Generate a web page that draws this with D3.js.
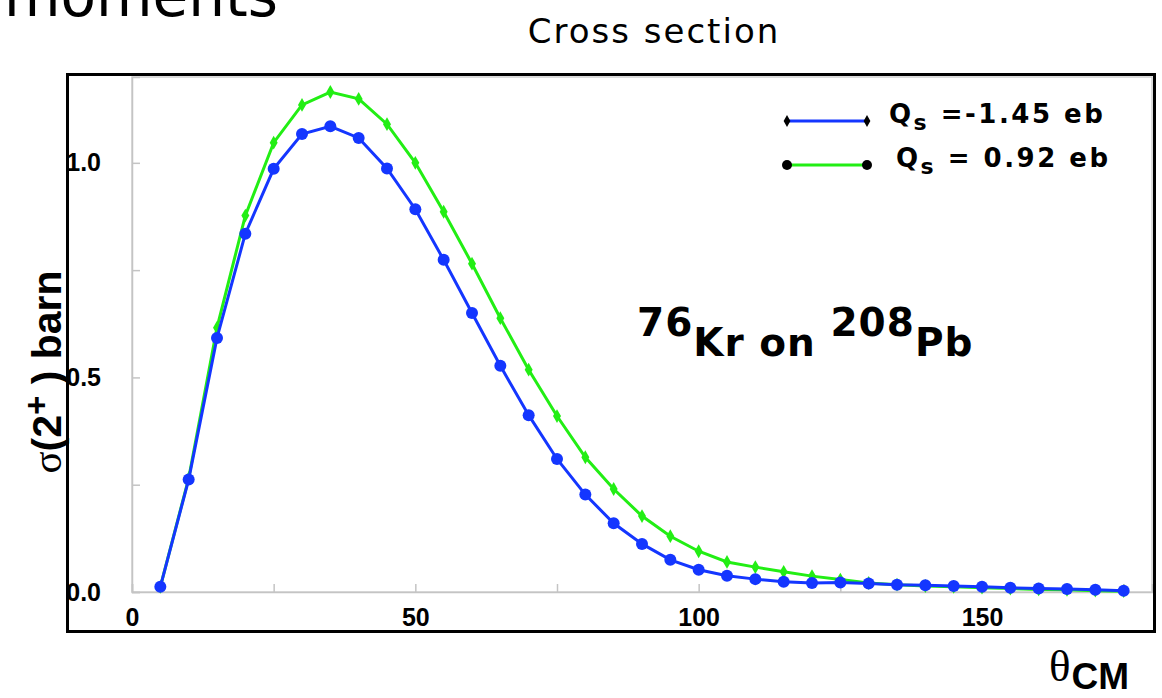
<!DOCTYPE html>
<html>
<head>
<meta charset="utf-8">
<script src="https://cdn.jsdelivr.net/npm/d3@7"></script>
<style>
  body { margin: 0; background: #fff; }
  .comic { font-family: "Comic Sans MS", "DejaVu Sans", "Noto Sans", sans-serif; }
  .axis path, .axis line { stroke: #c4c4c4; stroke-width: 1.5; }
</style>
</head>
<body>
<svg width="1162" height="698"></svg>
<script>
// cross section of 2+ excitation vs CM angle

var theta = [5, 10, 15, 20, 25, 30, 35, 40, 45, 50, 55, 60, 65, 70, 75, 80, 85, 90,
             95, 100, 105, 110, 115, 120, 125, 130, 135, 140, 145, 150, 155, 160, 165, 170, 175];

// Qs = -1.45 eb (blue, circles)
var sigmaNeg = [0.012, 0.262, 0.592, 0.835, 0.986, 1.067, 1.085, 1.058, 0.987, 0.892,
                0.774, 0.650, 0.527, 0.412, 0.310, 0.227, 0.160, 0.112, 0.075, 0.052,
                0.038, 0.030, 0.024, 0.021, 0.022, 0.020, 0.017, 0.016, 0.014, 0.012,
                0.010, 0.008, 0.007, 0.005, 0.003];

// Qs = 0.92 eb (green, diamonds)
var sigmaPos = [0.012, 0.265, 0.616, 0.877, 1.047, 1.135, 1.165, 1.149, 1.090, 1.000,
                0.886, 0.765, 0.638, 0.518, 0.410, 0.314, 0.240, 0.177, 0.130, 0.095,
                0.070, 0.058, 0.047, 0.037, 0.029, 0.021, 0.017, 0.014, 0.012, 0.010,
                0.008, 0.006, 0.005, 0.003, 0.002];

var xTicks = [0, 25, 50, 75, 100, 125, 150, 175];
var xLabels = [0, 50, 100, 150];
var yTicks = [0, 0.25, 0.5, 0.75, 1.0];
var yLabels = [0, 0.5, 1.0];

var legendNames = ["=-1.45 eb", "= 0.92 eb"];

var BLUE = "#1436ff", GREEN = "#22ee14";

var svg = d3.select("svg");

var x = d3.scaleLinear().domain([0, 180]).range([132, 1152]);
var y = d3.scaleLinear().domain([0, 1.2]).range([592, 77]);

// "moments" cut off at the top of the slide
svg.append("text")
    .attr("class", "comic")
    .attr("x", 278).attr("y", 16)
    .attr("text-anchor", "end")
    .attr("font-size", 58)
    .text("moments");

svg.append("text")
    .attr("class", "comic")
    .attr("x", 654).attr("y", 43)
    .attr("text-anchor", "middle")
    .attr("font-size", 34)
    .attr("letter-spacing", 2)
    .text("Cross section");

// light gray plot box
svg.append("rect")
    .attr("x", x(0)).attr("y", y(1.2))
    .attr("width", x(180) - x(0)).attr("height", y(0) - y(1.2))
    .attr("fill", "none").attr("stroke", "#d0d0d0").attr("stroke-width", 1.5);

svg.append("g")
    .attr("class", "axis axis--x")
    .attr("transform", "translate(0," + y(0) + ")")
    .call(d3.axisBottom(x).tickValues(xTicks).tickSize(-8).tickPadding(16)
        .tickFormat(d => xLabels.indexOf(d) >= 0 ? d : ""));

svg.append("g")
    .attr("class", "axis axis--y")
    .attr("transform", "translate(" + x(0) + ",0)")
    .call(d3.axisLeft(y).tickValues(yTicks).tickSize(-8).tickPadding(31)
        .tickFormat(d => yLabels.indexOf(d) >= 0 ? d3.format(".1f")(d) : ""));

svg.selectAll(".axis .domain").attr("stroke", "#c4c4c4");
svg.selectAll(".axis .tick text")
    .attr("font-family", "'Liberation Sans', Arial, sans-serif")
    .attr("font-weight", "bold")
    .attr("font-size", 25)
    .attr("fill", "#000");

var line = d3.line()
    .x((d, i) => x(theta[i]))
    .y(d => y(d));

// green series underneath
svg.append("path")
    .datum(sigmaPos)
    .attr("fill", "none").attr("stroke", GREEN).attr("stroke-width", 3)
    .attr("d", line);

svg.append("g").selectAll("path")
    .data(sigmaPos)
    .join("path")
    .attr("transform", (d, i) => "translate(" + x(theta[i]) + "," + y(d) + ")")
    .attr("d", d3.symbol(d3.symbolDiamond, 55))
    .attr("fill", GREEN);

svg.append("path")
    .datum(sigmaNeg)
    .attr("fill", "none").attr("stroke", BLUE).attr("stroke-width", 3)
    .attr("d", line);

svg.append("g").selectAll("circle")
    .data(sigmaNeg)
    .join("circle")
    .attr("cx", (d, i) => x(theta[i]))
    .attr("cy", d => y(d))
    .attr("r", 6)
    .attr("fill", BLUE);

// legend
var leg = svg.append("g");
[BLUE, GREEN].forEach(function(c, i) {
    var ly = 121 + i * 44;
    leg.append("line")
        .attr("x1", 787).attr("x2", 867).attr("y1", ly).attr("y2", ly)
        .attr("stroke", c).attr("stroke-width", 3);
    [787, 867].forEach(function(px) {
        if (i == 0)
            leg.append("path")
                .attr("transform", "translate(" + px + "," + ly + ")")
                .attr("d", d3.symbol(d3.symbolDiamond, 40))
                .attr("fill", "#000");
        else
            leg.append("circle").attr("cx", px).attr("cy", ly).attr("r", 5).attr("fill", "#000");
    });
    var t = leg.append("text")
        .attr("class", "comic")
        .attr("x", i == 0 ? 889 : 896).attr("y", ly + 2)
        .attr("font-size", 26).attr("font-weight", "bold")
        .attr("letter-spacing", 2.5);
    t.append("tspan").text("Q");
    t.append("tspan").attr("dy", 7).attr("font-size", 22).text("s");
    t.append("tspan").attr("dy", -7).text(" " + legendNames[i]);
});

// reaction annotation
var ann = svg.append("text")
    .attr("class", "comic")
    .attr("x", 637).attr("y", 336)
    .attr("font-size", 39).attr("font-weight", "bold")
    .attr("letter-spacing", 1);
ann.append("tspan").text("76");
ann.append("tspan").attr("dy", 20).text("Kr on ");
ann.append("tspan").attr("dy", -20).text("208");
ann.append("tspan").attr("dy", 20).text("Pb");

// y label
var yl = svg.append("text")
    .attr("transform", "translate(61,372) rotate(-90)")
    .attr("text-anchor", "middle")
    .attr("font-size", 41);
yl.append("tspan").attr("font-family", "'Liberation Serif', 'DejaVu Serif', serif").text("σ");
yl.append("tspan").attr("font-family", "'Liberation Sans', Arial, sans-serif").attr("font-weight", "bold").text("(2");
yl.append("tspan").attr("font-family", "'Liberation Sans', Arial, sans-serif").attr("font-weight", "bold")
    .attr("dy", -13).attr("font-size", 33).text("+");
yl.append("tspan").attr("font-family", "'Liberation Sans', Arial, sans-serif").attr("font-weight", "bold")
    .attr("dy", 13).text(" ) barn");

// x label
var xl = svg.append("text")
    .attr("x", 1049).attr("y", 681)
    .attr("font-size", 45);
xl.append("tspan").attr("font-family", "'Liberation Serif', 'DejaVu Serif', serif").text("θ");
xl.append("tspan").attr("font-family", "'Liberation Sans', Arial, sans-serif").attr("font-weight", "bold")
    .attr("font-size", 37).attr("dx", 1).attr("dy", 8).text("CM");

// outer black frame
svg.append("rect")
    .attr("x", 67.5).attr("y", 74.5).attr("width", 1087).attr("height", 557)
    .attr("fill", "none").attr("stroke", "#000").attr("stroke-width", 3);
</script>
</body>
</html>
